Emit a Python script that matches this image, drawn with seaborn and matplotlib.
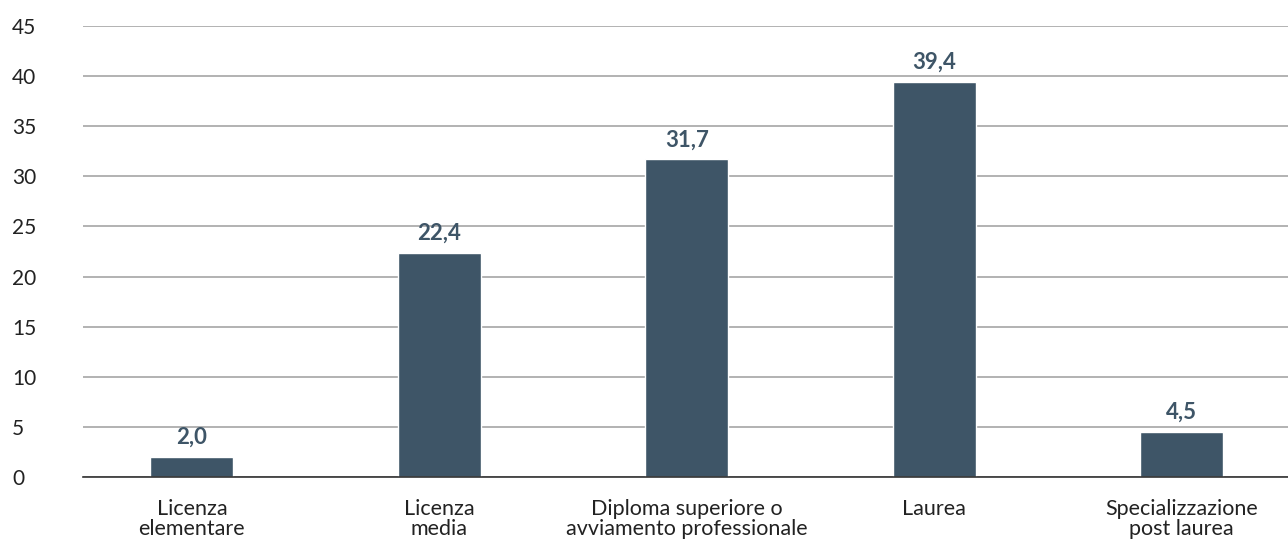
import matplotlib
matplotlib.use("Agg")
import matplotlib.pyplot as plt
import seaborn as sns
import pandas as pd

categories = ["Licenza\nelementare", "Licenza\nmedia", "Diploma superiore o\navviamento professionale",
              "Laurea", "Specializzazione\npost laurea"]
values = [2.0, 22.4, 31.7, 39.4, 4.5]
yticks = [0, 5, 10, 15, 20, 25, 30, 35, 40, 45]

bar_color = "#3E5567"

sns.set_theme(style="white")
plt.rcParams['font.family'] = ['Lato', 'DejaVu Sans']

df = pd.DataFrame({"cat": categories, "val": values})

fig = plt.figure(figsize=(12.88, 5.4), dpi=100)
ax = fig.add_axes([83/1288, (540-477)/540, 1 - 83/1288, (477-26)/540])

sns.barplot(data=df, x="cat", y="val", color=bar_color, width=0.336, ax=ax, saturation=1)

ax.set_ylim(0, 45)
ax.set_xlim(-0.44, 4.43)
ax.set_yticks(yticks)
ax.set_yticklabels([str(t) for t in yticks], fontsize=15, color="#222222", ha="left")
ax.tick_params(axis="y", length=0, pad=51)
ax.tick_params(axis="x", length=0, pad=15.5, labelsize=15.5, labelcolor="#222222")
for lab in ax.get_xticklabels():
    lab.set_linespacing(1.05)
ax.set_xlabel("")
ax.set_ylabel("")

ax.yaxis.grid(True, color="#a6a6a6", linewidth=1.2)
ax.set_axisbelow(True)
for s in ["top", "right", "left"]:
    ax.spines[s].set_visible(False)
ax.spines["bottom"].set_color("#333333")
ax.spines["bottom"].set_linewidth(1.2)

labels = [f"{v:.1f}".replace(".", ",") for v in values]
ax.bar_label(ax.containers[0], labels=labels, padding=6.5, fontsize=16,
             fontweight="bold", color=bar_color)

fig.savefig("out.png", dpi=100)
